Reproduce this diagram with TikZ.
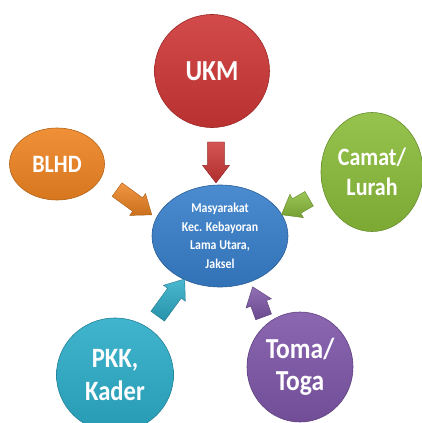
\documentclass[tikz,border=0pt]{standalone}
\usepackage{fontspec}
\setmainfont{Carlito}[FakeStretch=0.88]
\usetikzlibrary{shapes.geometric, shapes.arrows}
\definecolor{ukmred}{RGB}{205,55,54}
\definecolor{blhdorange}{RGB}{238,132,34}
\definecolor{camatgreen}{RGB}{138,188,58}
\definecolor{masblue}{RGB}{55,126,202}
\definecolor{pkkcyan}{RGB}{44,172,200}
\definecolor{tomapurple}{RGB}{126,86,168}
\tikzset{bubble/.style={ellipse, draw=#1!75!black, line width=0.6pt, top color=#1!90!white, bottom color=#1!90!black, inner sep=0pt},
         lbl/.style 2 args={text=white, font=\bfseries\fontsize{#1}{#2}\selectfont, align=center},
         blk/.style={single arrow, draw=#1!70!black, top color=#1!85!white, bottom color=#1!85!black, inner sep=8pt, minimum width=27pt, single arrow head extend=5pt, single arrow tip angle=75},
        }

\begin{document}
\begin{tikzpicture}[x=1pt,y=-1pt]
        \useasboundingbox (0,0) rectangle (422,423);
        \node[bubble=ukmred, minimum width=115pt, minimum height=113pt, label={[lbl={29}{30}]center:UKM}](ukm)at(212,71){};
        \node[bubble=blhdorange, minimum width=95pt, minimum height=72pt, label={[lbl={25}{28}]center:BLHD}](blhd)at(57,164){};
        \node[bubble=camatgreen, minimum width=102pt, minimum height=119pt, label={[lbl={25}{30}]center:Camat/\\Lurah}](camat)at(372,172){};
        \node[bubble=masblue, minimum width=136pt, minimum height=102pt, label={[lbl={13.5}{18.5}]center:Masyarakat\\Kec. Kebayoran\\Lama Utara,\\Jaksel}](mas)at(220,236){};
        \node[bubble=pkkcyan, minimum width=117pt, minimum height=114pt, label={[lbl={28}{33}]center:PKK,\\Kader}](pkk)at(115,375){};
        \node[bubble=tomapurple, minimum width=106pt, minimum height=110pt, label={[lbl={29}{32}]center:Toma/\\Toga}](toma)at(300,367){};

        \node[blk=ukmred, minimum height=41pt, rotate=-90](aukm)at(216,157){};
        \node[blk=blhdorange, minimum height=43pt, rotate=-36](ablhd)at(130,199){};
        \node[blk=camatgreen, minimum height=32pt, rotate=210](acamat)at(300,204){};
        \node[blk=pkkcyan, minimum height=46pt, rotate=54](apkk)at(168,302){};
        \node[blk=tomapurple, minimum height=32pt, rotate=110](atoma)at(260,307){};
    \end{tikzpicture}
\end{document}
